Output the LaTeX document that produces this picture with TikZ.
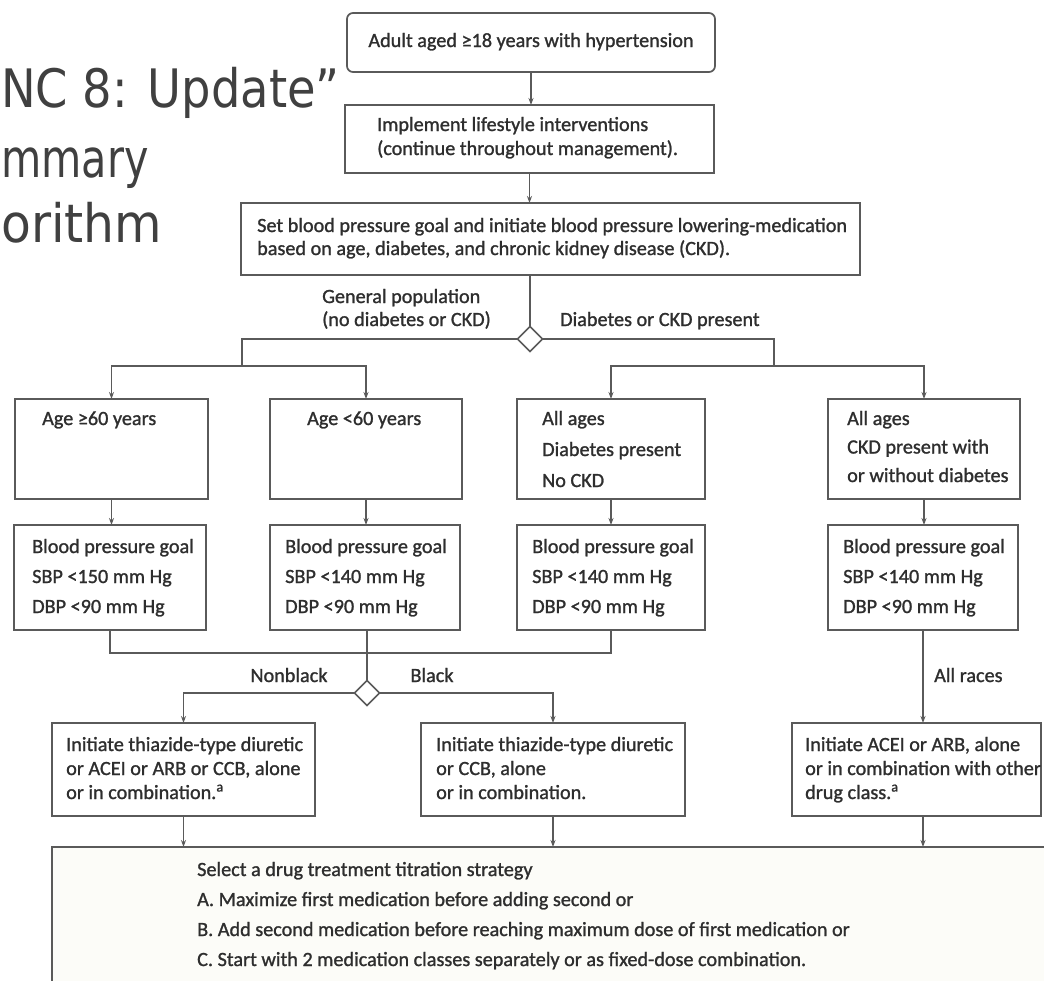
\documentclass[tikz,border=0pt]{standalone}
\usepackage{fontspec}
\usepackage{graphicx}
\usetikzlibrary{arrows.meta,shapes.geometric}
\newfontfamily\chartfont[FakeBold=1.2]{Carlito}
\newfontfamily\titlefont{DejaVu Sans}
\definecolor{boxc}{HTML}{5A5A5A}
\definecolor{linec}{HTML}{5A5A5A}
\definecolor{txtc}{HTML}{2E2E2E}
\definecolor{ttlc}{HTML}{404040}
\definecolor{cream}{HTML}{FCFCF8}
\newcommand\ml[2]{\vtop{\baselineskip=#1pt\lineskip=0pt\lineskiplimit=-50pt\halign{##\hfil\cr#2\crcr}}}
\tikzset{
  box/.style={draw=boxc, line width=1.7pt, fill=white, inner sep=0pt, outer sep=0pt, anchor=north west},
  diam/.style={draw=boxc, line width=1.5pt, fill=white, diamond, inner sep=0pt, outer sep=0pt, minimum width=25pt, minimum height=25pt},
  txt/.style={inner sep=0pt, text=txtc, font={\chartfont\fontsize{20.2}{24}\selectfont}, anchor=base west},
  ttl/.style={inner sep=0pt, text=ttlc, font={\titlefont\fontsize{53}{60}\selectfont}, anchor=base west},
  conn/.style={draw=linec, line width=1.4pt},
  arr/.style={conn, -{Stealth[length=7pt,width=5pt]}},
}
\begin{document}
\begin{tikzpicture}[x=1pt,y=-1pt]
\clip (0,0) rectangle (1044,980);
\fill[white] (0,0) rectangle (1044,980);
% title (visible part)
\node[ttl] (ttl1) at (1,107) {\scalebox{0.875}[1]{NC 8: Update”}};
\node[ttl] (ttl2) at (1,177) {\scalebox{0.78}[1]{mmary}};
\node[ttl] (ttl3) at (1,242) {\scalebox{0.92}[1]{orithm}};
% boxes
\node[box, rounded corners=6pt, minimum width=368pt, minimum height=59pt] (b1) at (347,13) {};
\node[box, minimum width=369pt, minimum height=68pt] (b2) at (345,105) {};
\node[box, minimum width=619pt, minimum height=72pt] (b3) at (241,203) {};
\node[diam] (d1) at (530,339) {};
\coordinate (j2) at (242,366);
\coordinate (j3) at (774,366);
\node[box, minimum width=193pt, minimum height=100pt] (A1) at (15,399) {};
\node[box, minimum width=192pt, minimum height=100pt] (A2) at (270,399) {};
\node[box, minimum width=188pt, minimum height=100pt] (A3) at (517,399) {};
\node[box, minimum width=192pt, minimum height=100pt] (A4) at (828,399) {};
\node[box, minimum width=192pt, minimum height=105pt] (B1) at (14,525) {};
\node[box, minimum width=190pt, minimum height=105pt] (B2) at (270,525) {};
\node[box, minimum width=188pt, minimum height=105pt] (B3) at (517,525) {};
\node[box, minimum width=190pt, minimum height=105pt] (B4) at (828,525) {};
\coordinate (j1) at (367,653);
\node[diam] (d2) at (367,693) {};
\node[box, minimum width=263pt, minimum height=93pt] (C1) at (52,723) {};
\node[box, minimum width=264pt, minimum height=93pt] (C2) at (421,723) {};
\node[box, minimum width=249pt, minimum height=93pt] (C3) at (792,723) {};
\node[box, fill=cream, minimum width=1060pt, minimum height=160pt] (D) at (52,847) {};
% connectors
\draw[arr] (b1.south) -- (b1.south |- b2.north);
\draw[arr] (b2.south) -- (b2.south |- b3.north);
\draw[conn] (d1.north |- b3.south) -- (d1.north);
\draw[conn] (d1.west) -| (j2);
\draw[arr] (j2) -| (A1.north);
\draw[arr] (j2) -| (A2.north);
\draw[conn] (d1.east) -| (j3);
\draw[arr] (j3) -| (A3.north);
\draw[arr] (j3) -| (A4.north);
\draw[arr] (A1.south) -- (A1.south |- B1.north);
\draw[arr] (A2.south) -- (A2.south |- B2.north);
\draw[arr] (A3.south) -- (A3.south |- B3.north);
\draw[arr] (A4.south) -- (A4.south |- B4.north);
\draw[conn] (B1.south) |- (j1) -| (B3.south);
\draw[conn] (d2.north |- B2.south) -- (d2.north);
\draw[arr] (d2.west) -| (C1.north);
\draw[arr] (d2.east) -| (C2.north);
\draw[arr] (B4.south) -- (B4.south |- C3.north);
\draw[arr] (C1.south) -- (C1.south |- D.north);
\draw[arr] (C2.south) -- (C2.south |- D.north);
\draw[arr] (B4.south |- C3.south) -- (B4.south |- D.north);
% texts
\node[txt, anchor=base] (t1) at (531,47) {Adult aged ≥18 years with hypertension};
\node[txt] (t2) at (377,131) {\ml{24}{Implement lifestyle interventions\cr (continue throughout management).}};
\node[txt] (t3) at (257,232) {\ml{23}{Set blood pressure goal and initiate blood pressure lowering-medication\cr based on age, diabetes, and chronic kidney disease (CKD).}};
\node[txt] (lg) at (322,303) {\ml{23}{General population\cr (no diabetes or CKD)}};
\node[txt] (ld) at (560,326) {Diabetes or CKD present};
\node[txt] (tA1) at (42,425) {Age ≥60 years};
\node[txt] (tA2) at (307,425) {Age <60 years};
\node[txt] (tA3) at (542,425) {\ml{31}{All ages\cr Diabetes present\cr No CKD}};
\node[txt] (tA4) at (847,425) {\ml{28.5}{All ages\cr CKD present with\cr or without diabetes}};
\node[txt] (tB1) at (32,553) {\ml{30}{Blood pressure goal\cr SBP <150 mm Hg\cr DBP <90 mm Hg}};
\node[txt] (tB2) at (285,553) {\ml{30}{Blood pressure goal\cr SBP <140 mm Hg\cr DBP <90 mm Hg}};
\node[txt] (tB3) at (532,553) {\ml{30}{Blood pressure goal\cr SBP <140 mm Hg\cr DBP <90 mm Hg}};
\node[txt] (tB4) at (843,553) {\ml{30}{Blood pressure goal\cr SBP <140 mm Hg\cr DBP <90 mm Hg}};
\node[txt, anchor=base] (lnb) at (289,682) {Nonblack};
\node[txt, anchor=base] (lb) at (432,682) {Black};
\node[txt] (lr) at (934,682) {All races};
\node[txt] (tC1) at (66,751) {\ml{24}{Initiate thiazide-type diuretic\cr or ACEI or ARB or CCB, alone\cr or in combination.\textsuperscript{a}}};
\node[txt] (tC2) at (436,751) {\ml{24}{Initiate thiazide-type diuretic\cr or CCB, alone\cr or in combination.}};
\node[txt] (tC3) at (805,751) {\ml{24}{Initiate ACEI or ARB, alone\cr or in combination with other\cr drug class.\textsuperscript{a}}};
\node[txt] (tD) at (197,876) {\ml{30}{Select a drug treatment titration strategy\cr A. Maximize first medication before adding second or\cr B. Add second medication before reaching maximum dose of first medication or\cr C. Start with 2 medication classes separately or as fixed-dose combination.}};
\end{tikzpicture}
\end{document}
